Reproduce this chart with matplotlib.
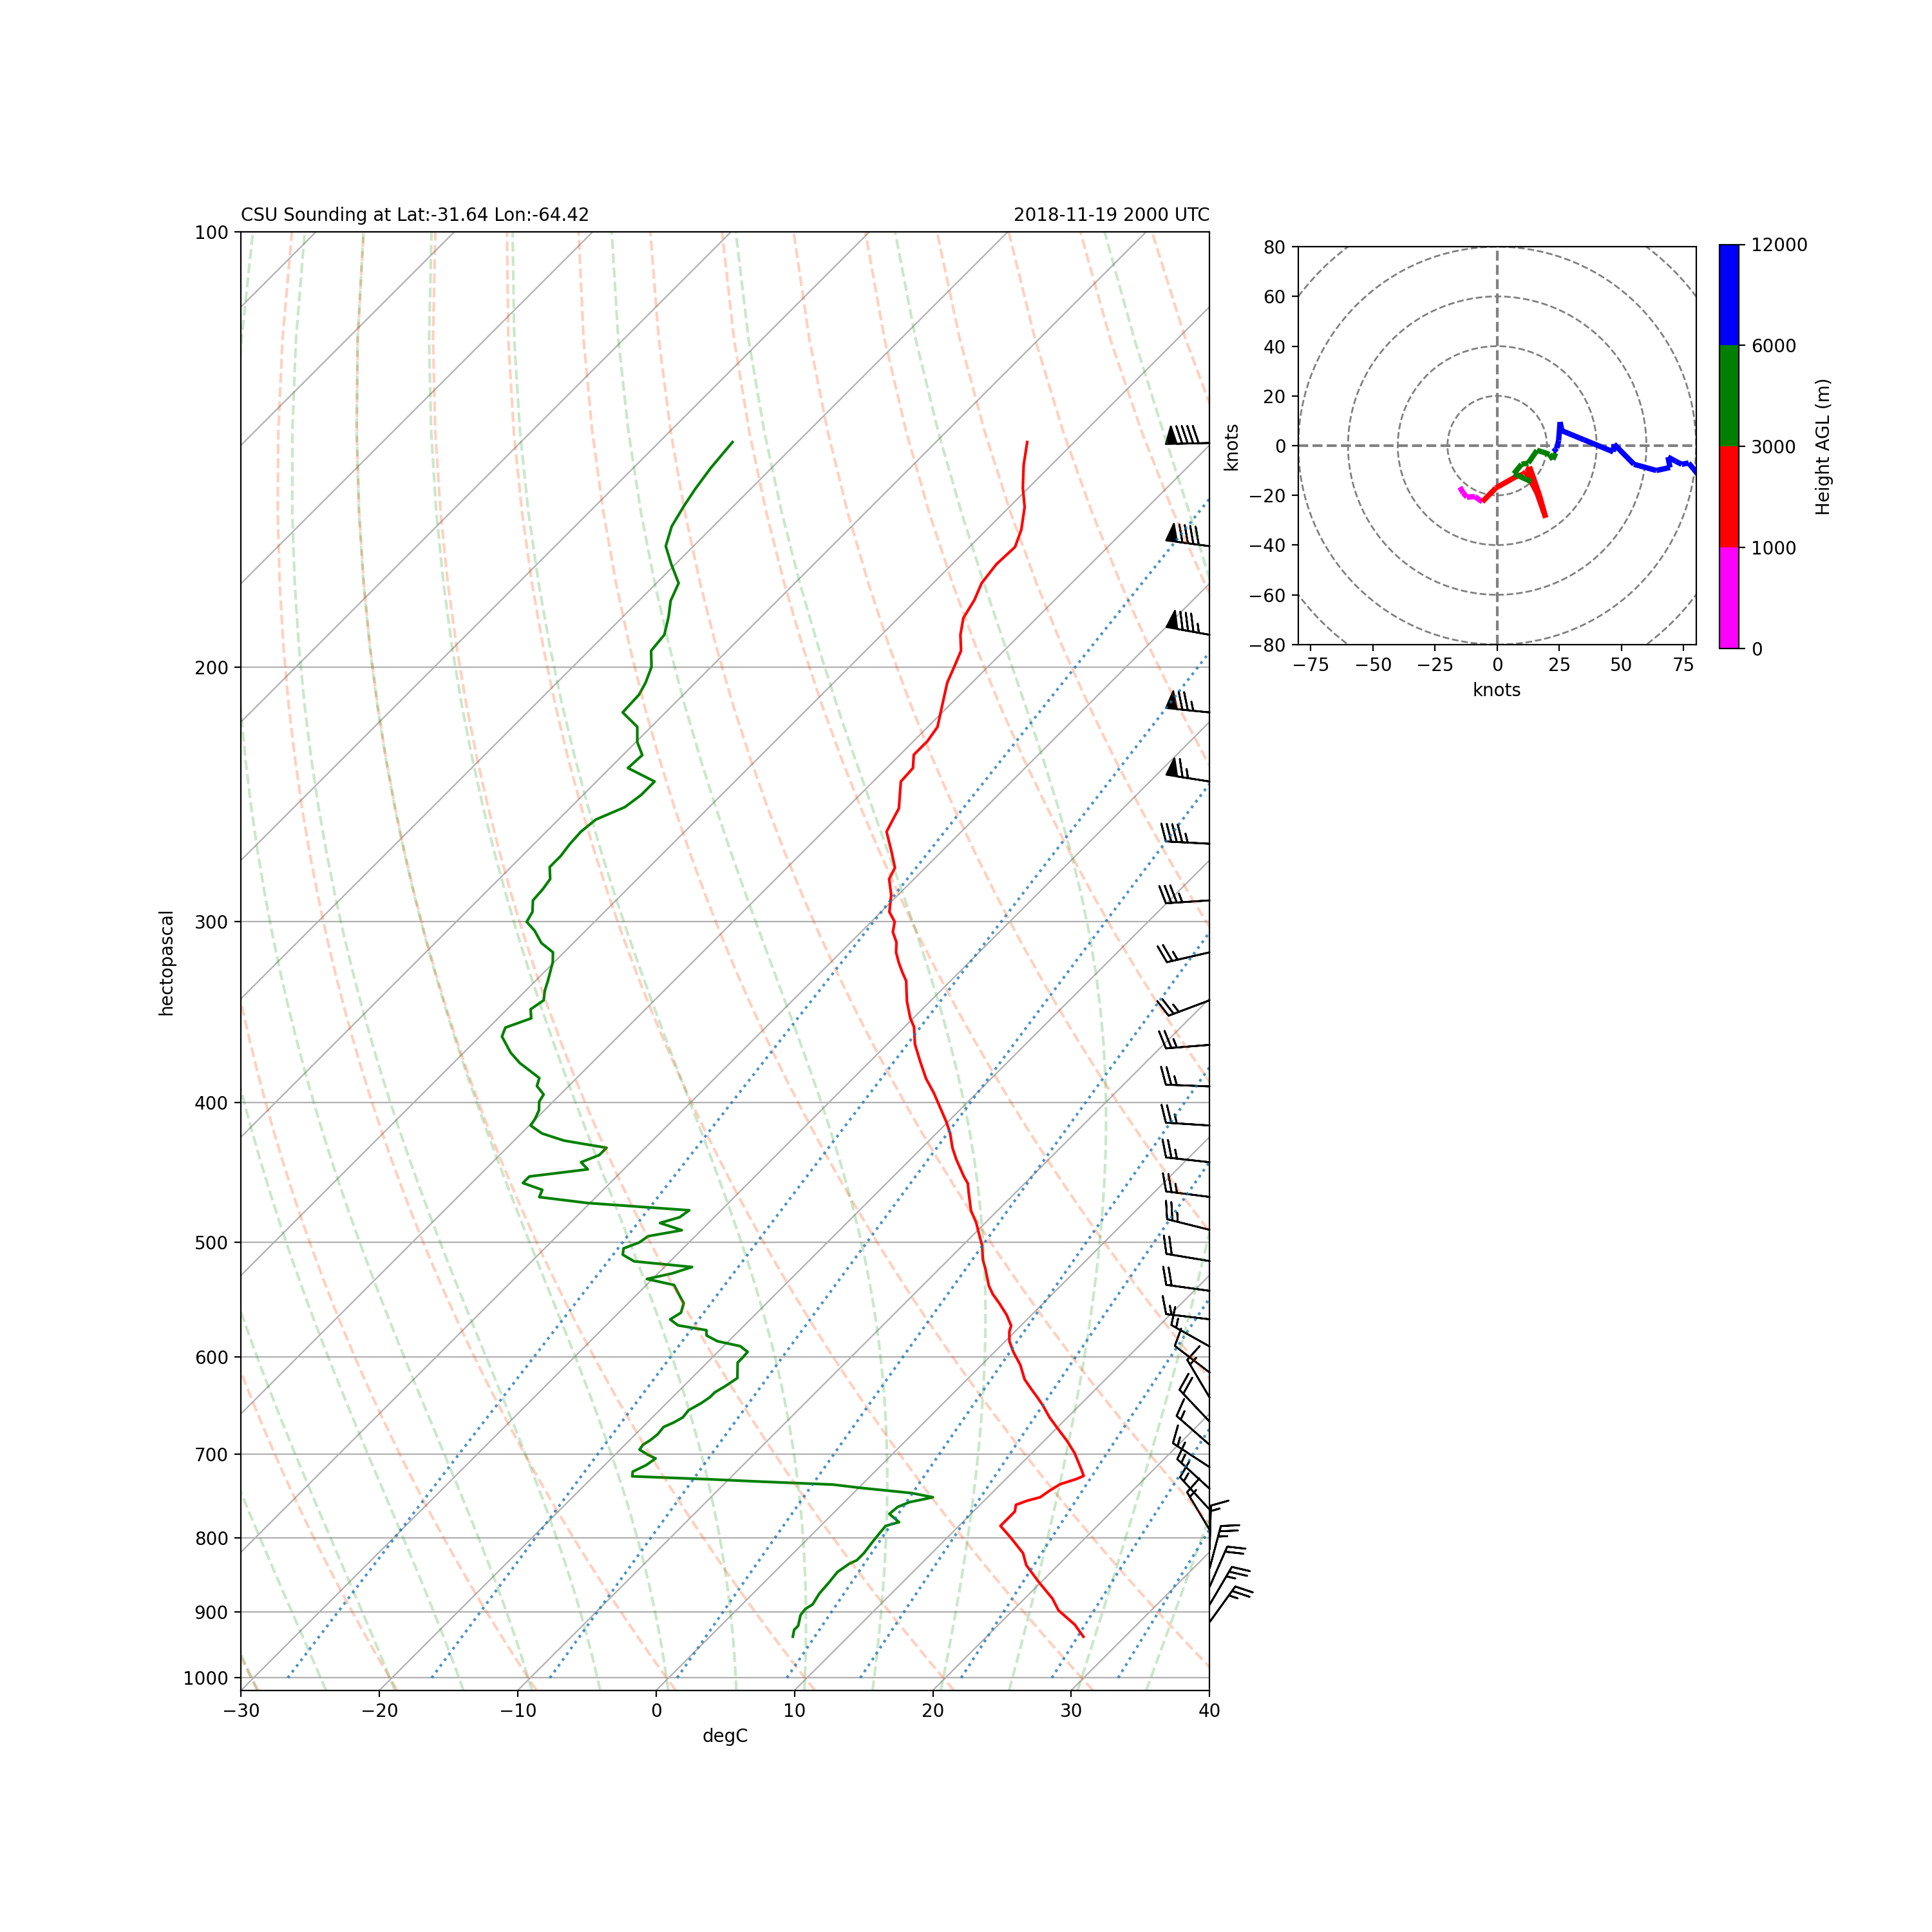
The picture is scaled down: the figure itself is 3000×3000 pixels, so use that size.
import numpy as np
import matplotlib
matplotlib.use("Agg")
import matplotlib.pyplot as plt
import matplotlib.transforms as mtransforms
from matplotlib.collections import LineCollection
from matplotlib.colors import ListedColormap, BoundaryNorm
from matplotlib.patches import Circle
from matplotlib.ticker import MultipleLocator, ScalarFormatter, NullLocator

#  sounding values (hPa, degC)
p_temp = [936.5, 918.7, 898.1, 881.3, 858.2, 835.7, 819.9, 800.0, 785.1, 779.0,
          774.7, 767.4, 759.2, 754.3, 750.1, 742.4, 734.7, 728.6, 725.0, 718.0,
          699.2, 686.0, 673.2, 660.5, 648.0, 640.8, 631.1, 621.7, 607.6, 595.1,
          585.1, 576.2, 570.8, 561.1, 550.6, 542.9, 535.6, 521.1, 514.0, 502.3,
          495.4, 484.2, 475.4, 462.6, 455.2, 450.1, 437.9, 430.0, 420.3, 412.7,
          403.3, 394.1, 385.2, 374.6, 364.6, 354.8, 349.9, 340.4, 329.7, 325.2,
          320.0, 315.0, 310.0, 305.0, 300.1, 295.4, 287.5, 280.3, 275.3, 267.9,
          260.0, 255.3, 250.5, 245.2, 240.0, 234.9, 230.0, 225.0, 220.0, 211.5,
          205.0, 200.2, 194.9, 190.0, 185.0, 179.8, 175.0, 169.8, 165.2, 160.7,
          155.0, 150.4, 145.0, 139.8]
temp = [27.0, 25.5, 23.3, 22.0, 19.8, 17.7, 16.6, 14.6, 13.0, 13.0,
        13.0, 13.0, 12.6, 13.1, 13.8, 14.0, 14.3, 15.1, 15.4, 14.8,
        13.1, 11.7, 10.2, 8.7, 7.35, 6.5, 5.3, 4.15, 2.8, 1.35,
        0.3, -0.4, -0.7, -1.8, -3.2, -4.3, -5.2, -6.7, -7.5, -8.6,
        -9.4, -10.7, -11.9, -13.3, -14.1, -14.9, -16.7, -17.8, -19.0, -20.1,
        -21.6, -23.1, -24.7, -26.4, -28.0, -29.3, -30.2, -31.7, -33.2, -34.1,
        -35.1, -36.0, -36.7, -37.7, -38.3, -39.4, -40.5, -41.8, -42.2, -43.7,
        -45.4, -45.8, -46.2, -47.1, -48.0, -48.1, -49.0, -49.0, -49.3, -50.7,
        -51.8, -52.4, -53.1, -54.3, -55.3, -55.8, -56.5, -56.8, -56.7, -57.5,
        -58.9, -60.4, -62.0, -63.4]

p_dew = [936.5, 926.4, 920.4, 905.0, 896.0, 889.5, 874.5, 859.6, 845.0, 834.0,
         829.2, 819.9, 804.5, 795.4, 785.1, 780.4, 770.2, 761.8, 756.0, 750.1,
         745.1, 738.9, 735.1, 731.2, 729.0, 725.5, 720.1, 712.7, 705.2, 700.6,
         695.3, 690.0, 684.8, 678.3, 670.7, 666.1, 660.5, 653.0, 645.7, 639.6,
         634.7, 628.7, 620.4, 605.3, 600.3, 595.1, 589.7, 585.1, 579.8, 574.9,
         570.5, 565.1, 559.1, 550.6, 544.4, 535.0, 529.9, 525.3, 519.9, 515.2,
         509.8, 504.7, 500.1, 495.0, 490.3, 484.7, 480.3, 475.0, 469.5, 465.1,
         459.8, 454.8, 450.1, 445.0, 440.0, 435.0, 430.0, 425.1, 420.3, 415.0,
         410.8, 405.0, 399.6, 395.0, 389.7, 384.8, 375.7, 369.6, 360.2, 355.1,
         349.9, 344.9, 340.0, 335.0, 329.7, 320.0, 315.0, 310.4, 304.3, 300.1,
         295.4, 290.0, 284.8, 280.3, 275.0, 270.2, 265.4, 260.0, 255.0, 250.0,
         245.2, 240.0, 234.9, 230.1, 225.4, 220.0, 215.0, 209.0, 205.0, 200.0,
         194.9, 190.0, 184.6, 180.0, 175.0, 169.8, 165.0, 159.9, 154.7, 150.7,
         145.7, 139.8]
dewp = [6.0, 5.6, 5.6, 5.0, 4.9, 5.1, 4.8, 4.7, 4.55, 4.8,
        5.1, 5.1, 4.9, 4.8, 4.7, 5.4, 4.1, 4.2, 4.7, 6.05,
        4.2, 0.1, -2.1, -8.2, -11.3, -17.2, -17.5, -17.0, -16.8, -17.7,
        -18.6, -18.7, -18.5, -18.4, -18.5, -18.1, -17.8, -17.9, -17.5, -17.3,
        -17.3, -17.0, -16.7, -17.8, -17.8, -17.85, -18.8, -20.8, -22.0, -22.4,
        -24.8, -25.8, -25.5, -26.0, -26.8, -28.0, -30.4, -29.0, -28.0, -32.6,
        -33.9, -34.3, -33.6, -33.4, -31.4, -33.5, -32.5, -32.3, -40.2, -44.1,
        -44.4, -46.3, -46.3, -42.6, -43.6, -42.8, -42.8, -46.4, -48.5, -49.9,
        -50.05, -50.4, -51.0, -51.2, -52.3, -52.7, -55.2, -56.6, -58.4, -58.8,
        -57.6, -58.3, -58.0, -58.6, -59.1, -60.1, -60.8, -62.3, -63.7, -64.9,
        -65.2, -66.0, -66.1, -66.3, -67.2, -67.2, -67.4, -67.5, -67.3, -66.1,
        -65.8, -65.8, -68.7, -68.6, -69.9, -71.0, -73.1, -73.2, -73.6, -74.3,
        -75.5, -75.7, -76.7, -77.7, -78.4, -80.3, -82.0, -83.0, -83.6, -84.0,
        -84.4, -84.7]

#  winds (hPa, m AGL, knots)
p_wind = [936, 915, 890, 865, 840, 815, 790, 765, 740, 730,
          725, 720, 715, 690, 665, 640, 615, 590, 565, 540,
          515, 490, 465, 440, 415, 390, 365, 340, 315, 290,
          265, 258, 250, 240, 230, 225, 220, 215, 205, 190,
          165, 140]
hght = [0, 199, 440, 686, 1000, 1194, 1456, 1726, 2005, 2120,
        2180, 2235, 2294, 2592, 3000, 3214, 3538, 3873, 4219, 4577,
        4947, 5332, 5733, 6151, 6588, 7045, 7524, 8029, 8564, 9133,
        9743, 9925, 10130, 10401, 10680, 10830, 10975, 11123, 11440, 11922,
        12821, 13846]
u_wind = [-15.0, -13.7, -12.2, -9.0, -6.0, -0.5, 7.5, 10.5, 11.5, 16.0,
          19.5, 17.0, 13.0, 12.0, 13.7, 6.7, 9.8, 12.5, 16.0, 18.0,
          21.0, 22.4, 23.5, 22.7, 23.5, 24.0, 24.7, 25.3, 26.0, 35.0,
          46.7, 47.0, 55.0, 64.0, 69.5, 68.7, 71.8, 74.2, 77.0, 83.6,
          89.2, 90.0]
v_wind = [-16.7, -19.0, -20.7, -20.5, -22.6, -17.0, -12.5, -11.5, -10.5, -19.0,
          -29.0, -20.0, -8.5, -10.5, -14.5, -11.3, -7.5, -7.0, -1.9, -2.5,
          -3.5, -5.6, -3.0, -2.5, -1.5, -1.0, 2.0, 9.5, 6.0, 2.3,
          -2.5, 0.6, -7.5, -10.0, -8.8, -4.6, -6.3, -7.5, -7.0, -15.0,
          -11.8, 2.2]

hgt_bounds = [0, 1000, 3000, 6000, 12000]
hgt_colors = ["magenta", "red", "green", "blue"]
mix_ratios = [0.0004, 0.001, 0.002, 0.004, 0.007, 0.01, 0.016, 0.024, 0.032]

title_left = "CSU Sounding at Lat:-31.64 Lon:-64.42"
title_right = "2018-11-19 2000 UTC"

RD = 287.04749
CP = 1004.666
LV = 2.50084e6
EPS = 0.622
KAPPA = RD / CP


def sat_vapor(t_k):
    return 6.112 * np.exp(17.67 * (t_k - 273.15) / (t_k - 29.65))


def moist_slope(p, t_k):
    es = sat_vapor(t_k)
    rs = np.where(es < p, EPS * es / (p - es), np.nan)
    return (RD * t_k + LV * rs) / (CP + LV * LV * rs * EPS / (RD * t_k * t_k)) / p


def rk4(t_k, p0, p1, nsub=6):
    h = (p1 - p0) / nsub
    p = p0
    for _ in range(nsub):
        k1 = moist_slope(p, t_k)
        k2 = moist_slope(p + h / 2, t_k + h / 2 * k1)
        k3 = moist_slope(p + h / 2, t_k + h / 2 * k2)
        k4 = moist_slope(p + h, t_k + h * k3)
        t_k = t_k + h / 6 * (k1 + 2 * k2 + 2 * k3 + k4)
        p = p + h
    return t_k


#  moist adiabats, integrated away from 1000 hPa
def moist_lapse(t0, pres):
    out = np.full((len(t0), len(pres)), np.nan)
    for side in (pres <= 1000, pres > 1000):
        idx = np.where(side)[0]
        idx = idx[np.argsort(np.abs(pres[idx] - 1000.0))]
        t_cur = t0.astype(float)
        p_cur = 1000.0
        for i in idx:
            t_cur = rk4(t_cur, p_cur, pres[i])
            out[:, i] = t_cur
            p_cur = pres[i]
    return out - 273.15


def mixing_dewpoint(w, p):
    e = p * w / (EPS + w)
    val = np.log(e / 6.112)
    return 243.5 * val / (17.67 - val)


fig = plt.figure(figsize=(15, 15), dpi=200)

#  skew-T axes
ax = fig.add_axes([0.1248, 0.1251, 0.5013, 0.7550])
ax.set_yscale("log")
ax.set_xlim(-30, 40)
ax.set_ylim(1020, 100)
ax.yaxis.set_major_locator(MultipleLocator(100))
ax.yaxis.set_major_formatter(ScalarFormatter())
ax.yaxis.set_minor_locator(NullLocator())
ax.grid(True, axis="y")

box = ax.get_position()
shear = np.degrees(np.arctan(box.height / box.width))
skew = (ax.transScale + ax.transLimits
        + mtransforms.Affine2D().skew_deg(shear, 0) + ax.transAxes)

for t_iso in np.arange(-130, 41, 10):
    ax.plot([t_iso, t_iso], [1020, 100], color=plt.rcParams["grid.color"],
            linewidth=0.8, transform=skew, zorder=1.5)

ax.plot(temp, p_temp, "r", transform=skew)
ax.plot(dewp, p_dew, "g", transform=skew)

p_w = np.array(p_wind)
barb = p_w % 25 == 15
ax.barbs(np.ones(barb.sum()), p_w[barb], np.array(u_wind)[barb],
         np.array(v_wind)[barb], transform=ax.get_yaxis_transform(),
         clip_on=False, zorder=2)

#  dry adiabats, moist adiabats, mixing lines
pres = np.linspace(1020, 100, 50)
pres_mix = np.linspace(1000, 100, 50)
t0_dry = np.arange(233, 533, 10)
dry = t0_dry[:, None] * (pres / 1000.0) ** KAPPA - 273.15
ax.add_collection(LineCollection([np.column_stack([t, pres]) for t in dry],
                                 transform=skew, colors="orangered",
                                 linestyles="dashed", alpha=0.25,
                                 linewidths=1.5), autolim=False)

with np.errstate(all="ignore"):
    moist = moist_lapse(np.arange(233, 400, 5), pres)
    mix = mixing_dewpoint(np.array(mix_ratios)[:, None], pres_mix)
ax.add_collection(LineCollection([np.column_stack([t, pres]) for t in moist],
                                 transform=skew, colors="tab:green",
                                 linestyles="dashed", alpha=0.25,
                                 linewidths=1.5), autolim=False)
ax.add_collection(LineCollection([np.column_stack([t, pres_mix]) for t in mix],
                                 transform=skew, colors="tab:blue",
                                 linestyles="dotted", alpha=0.8,
                                 linewidths=1.5), autolim=False)

ax.set_xlim(-30, 40)
ax.set_ylim(1020, 100)
ax.set_xlabel("degC")
ax.set_ylabel("hectopascal")
ax.set_title(title_left, loc="left", fontsize=10)
ax.set_title(title_right, loc="right", fontsize=10)

#  hodograph
hax = fig.add_axes([0.672, 0.6664, 0.2059, 0.2059])
hax.set_xlim(-80, 80)
hax.set_ylim(-80, 80)
hax.set_aspect("equal", adjustable="box")
for r in np.arange(20, 120, 20):
    hax.add_patch(Circle((0, 0), r, fill=False, edgecolor="grey",
                         linestyle="dashed"))
hax.axvline(0, color="grey", linestyle="dashed")
hax.axhline(0, color="grey", linestyle="dashed")

pts = np.column_stack([u_wind, v_wind])
segs = np.stack([pts[:-1], pts[1:]], axis=1)
cmap = ListedColormap(hgt_colors)
cmap.set_over("none")
cmap.set_under("none")
norm = BoundaryNorm(hgt_bounds, cmap.N)
lc = LineCollection(segs, cmap=cmap, norm=norm, linewidth=3)
lc.set_array(np.array(hght[:-1], dtype=float))
hax.add_collection(lc)
hax.set_xlabel("knots")
hax.set_ylabel("knots")

cax = fig.add_axes([0.890, 0.6643, 0.0099, 0.2092])
cb = fig.colorbar(lc, cax=cax, ticks=hgt_bounds)
cb.set_label("Height AGL (m)")

fig.savefig("out.png", dpi=200)
